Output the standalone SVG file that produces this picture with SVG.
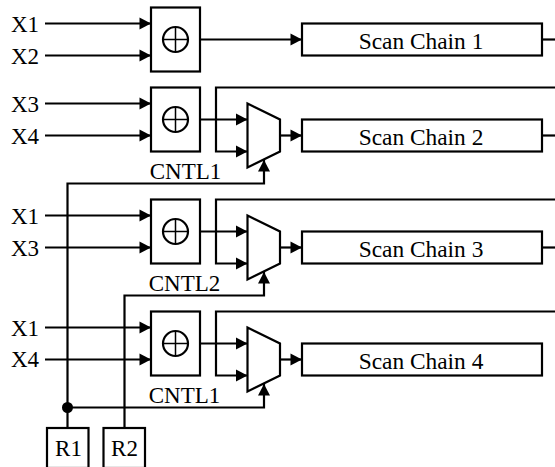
<svg xmlns="http://www.w3.org/2000/svg" width="555" height="467" viewBox="0 0 555 467">
<style>
.l{fill:none;stroke:#000;stroke-width:2.2}
.a{fill:none;stroke:#000;stroke-width:2.2;marker-end:url(#ah)}
.b{fill:#fff;stroke:#000;stroke-width:2.2}
.t{font-family:"Liberation Serif",serif;font-size:23px;fill:#000}
.m{text-anchor:middle}
.s{font-size:23.400px}
</style>
<defs>
<marker id="ah" markerUnits="userSpaceOnUse" markerWidth="13" markerHeight="13" refX="11.5" refY="6" orient="auto" overflow="visible"><path d="M0 0L11.5 6L0 12Z" fill="#000"/></marker>
<g id="xor"><rect class="b" x="151" y="0" width="49" height="64"/><circle class="l" cx="175.500" cy="32" r="12.500"/><path class="l" style="stroke-width:1.500" d="M163 32H188M175.500 19.500V44.500"/></g>
</defs>
<g id="connectors">
<path class="a" d="M45 23.500H151"/><path class="a" d="M45 55.500H151"/>
<path class="a" d="M45 103.500H151"/><path class="a" d="M45 135.500H151"/>
<path class="a" d="M45 215.500H151"/><path class="a" d="M45 247.500H151"/>
<path class="a" d="M45 327.500H151"/><path class="a" d="M45 359.500H151"/>
<path class="a" d="M200 39.500H302"/>
<path class="l" d="M542 39.500H555"/><path class="l" d="M542 135.500H555"/><path class="l" d="M542 247.500H555"/>
<path class="a" d="M200 119.500H247.500"/><path class="a" d="M555 87.500H216V151.500H247.500"/><path class="a" d="M280 135.500H302"/>
<path class="a" d="M200 231.500H247.500"/><path class="a" d="M555 199.500H216V263.500H247.500"/><path class="a" d="M280 247.500H302"/>
<path class="a" d="M200 343.500H247.500"/><path class="a" d="M555 311.500H216V375.500H247.500"/><path class="a" d="M280 359.500H302"/>
<path class="a" d="M67.500 428V183.500H264V160"/>
<path class="a" d="M124.500 428V295.500H264V272"/>
<path class="a" d="M67.500 407.500H264V384"/>
<circle cx="67.500" cy="407.500" r="5.500" fill="#000"/>
</g>
<g id="xor1"><use href="#xor" y="7.500"/></g>
<g id="xor2"><use href="#xor" y="87.500"/></g>
<g id="xor3"><use href="#xor" y="199.500"/></g>
<g id="xor4"><use href="#xor" y="311.500"/></g>
<g id="mux2"><path class="b" d="M247.500 103.500L280 119.500V151.500L247.500 167.500Z"/></g>
<g id="mux3"><path class="b" d="M247.500 215.500L280 231.500V263.500L247.500 279.500Z"/></g>
<g id="mux4"><path class="b" d="M247.500 327.500L280 343.500V375.500L247.500 391.500Z"/></g>
<g id="chain1"><rect class="b" x="302" y="23.500" width="240" height="32"/><text class="t s m" x="421" y="49">Scan Chain 1</text></g>
<g id="chain2"><rect class="b" x="302" y="119.500" width="240" height="32"/><text class="t s m" x="421" y="145">Scan Chain 2</text></g>
<g id="chain3"><rect class="b" x="302" y="231.500" width="240" height="32"/><text class="t s m" x="421" y="257">Scan Chain 3</text></g>
<g id="chain4"><rect class="b" x="302" y="343.500" width="240" height="32"/><text class="t s m" x="421" y="369">Scan Chain 4</text></g>
<g id="r1"><rect class="b" x="47" y="428" width="41.500" height="40"/><text class="t m" x="68.500" y="456">R1</text></g>
<g id="r2"><rect class="b" x="103.500" y="428" width="41.500" height="40"/><text class="t m" x="124.500" y="456">R2</text></g>
<g id="labels">
<text class="t" x="11" y="32">X1</text><text class="t" x="11" y="63.500">X2</text>
<text class="t" x="11" y="112">X3</text><text class="t" x="11" y="143.500">X4</text>
<text class="t" x="11" y="224">X1</text><text class="t" x="11" y="255.500">X3</text>
<text class="t" x="11" y="335.500">X1</text><text class="t" x="11" y="367">X4</text>
<text class="t m" x="185.500" y="179">CNTL1</text>
<text class="t m" x="184.500" y="291">CNTL2</text>
<text class="t m" x="184.500" y="403">CNTL1</text>
</g>
</svg>
